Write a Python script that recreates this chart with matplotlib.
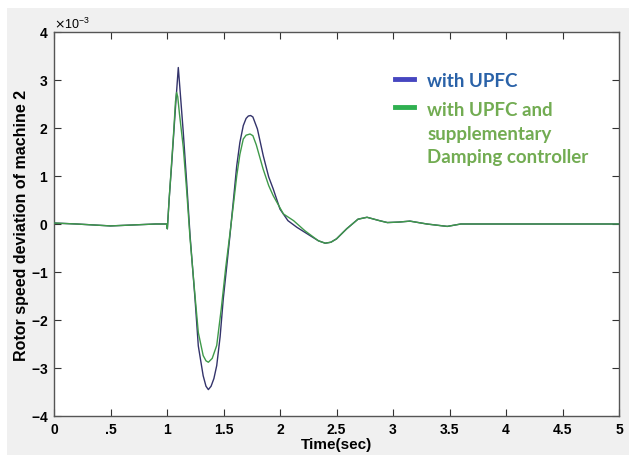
import matplotlib
matplotlib.use("Agg")
import numpy as np
import matplotlib.pyplot as plt
from matplotlib.patches import Rectangle
from matplotlib.lines import Line2D
from matplotlib.ticker import ScalarFormatter
from matplotlib.legend_handler import HandlerLine2D

# time (s) and rotor speed deviation (x1e-3)
t_upfc = [0, 0.2, 0.5, 0.7, 0.9, 0.997, 1.003, 1.02, 1.04, 1.06, 1.08, 1.10, 1.12, 1.144,
          1.174, 1.204, 1.248, 1.277, 1.32, 1.345, 1.366, 1.39, 1.415, 1.44, 1.47, 1.498,
          1.53, 1.557, 1.59, 1.617, 1.645, 1.675, 1.70, 1.72, 1.74, 1.76, 1.80, 1.852,
          1.90, 1.94, 2.0, 2.07, 2.15, 2.265, 2.34, 2.40, 2.45, 2.50, 2.59, 2.69, 2.77,
          2.88, 2.95, 3.05, 3.15, 3.3, 3.48, 3.6, 5.0]
w_upfc = [0.02, 0.0, -0.04, -0.02, 0.0, 0.0, -0.1, 0.55, 1.2, 1.9, 2.6, 3.26, 2.65, 1.91,
          0.87, -0.24, -1.56, -2.54, -3.16, -3.38, -3.45, -3.38, -3.22, -2.95, -2.35, -1.56,
          -0.85, -0.24, 0.55, 1.21, 1.7, 2.05, 2.2, 2.25, 2.26, 2.23, 1.98, 1.42,
          0.98, 0.73, 0.31, 0.07, -0.07, -0.24, -0.35, -0.40, -0.38, -0.31, -0.10, 0.10, 0.14,
          0.07, 0.03, 0.04, 0.06, 0.0, -0.05, 0.0, 0.0]

t_damp = [0, 0.2, 0.5, 0.7, 0.9, 0.997, 1.003, 1.02, 1.04, 1.06, 1.075, 1.085, 1.095, 1.11,
          1.144, 1.174, 1.204, 1.248, 1.277, 1.32, 1.345, 1.366, 1.40, 1.44, 1.48, 1.52,
          1.557, 1.59, 1.617, 1.645, 1.675, 1.70, 1.735, 1.76, 1.79, 1.85,
          1.90, 1.94, 2.03, 2.12, 2.22, 2.30, 2.34, 2.40, 2.45, 2.50, 2.59, 2.69, 2.77,
          2.88, 2.95, 3.05, 3.15, 3.3, 3.48, 3.6, 5.0]
w_damp = [0.02, 0.0, -0.04, -0.02, 0.0, 0.0, -0.1, 0.55, 1.25, 1.95, 2.55, 2.74, 2.65, 2.3,
          1.6, 0.7, -0.3, -1.5, -2.26, -2.74, -2.85, -2.88, -2.8, -2.53, -1.77, -0.9,
          -0.2, 0.45, 1.0, 1.45, 1.77, 1.85, 1.875, 1.84, 1.65, 1.15,
          0.8, 0.59, 0.21, 0.07, -0.14, -0.28, -0.35, -0.40, -0.38, -0.31, -0.10, 0.10, 0.14,
          0.07, 0.03, 0.04, 0.06, 0.0, -0.05, 0.0, 0.0]

x_ticks = [0, 0.5, 1, 1.5, 2, 2.5, 3, 3.5, 4, 4.5, 5]
x_labels = ["0", ".5", "1", "1.5", "2", "2.5", "3", "3.5", "4", "4.5", "5"]
y_ticks = [-4, -3, -2, -1, 0, 1, 2, 3, 4]

labels = ["with UPFC", "with UPFC and\nsupplementary\nDamping controller"]

plt.rcParams['font.family'] = ['Liberation Sans', 'DejaVu Sans']
plt.rcParams['axes.unicode_minus'] = False

W, H = 629, 456
fig = plt.figure(figsize=(W / 100, H / 100), dpi=100, facecolor='white')
fig.patches.append(Rectangle((7 / W, 0), 1, (H - 9) / H, transform=fig.transFigure,
                             facecolor='#f0f0f0', edgecolor='none', zorder=-10))

ax = fig.add_axes([54 / W, (H - 417) / H, (619 - 54) / W, (417 - 33) / H])
ax.set_facecolor('white')

ax.plot(t_upfc, [v * 1e-3 for v in w_upfc], color='#33336b', lw=1.0, zorder=3)
ax.plot(t_damp, [v * 1e-3 for v in w_damp], color='#3f9a4a', lw=1.0, zorder=4)

ax.set_xlim(0, 5)
ax.set_ylim(-4e-3, 4e-3)
ax.set_xticks(x_ticks)
ax.set_xticklabels(x_labels)
ax.set_yticks([v * 1e-3 for v in y_ticks])
fmt = ScalarFormatter(useMathText=True)
fmt.set_powerlimits((-2, 2))
ax.yaxis.set_major_formatter(fmt)
ax.yaxis.get_offset_text().set_fontsize(9)

ax.tick_params(direction='in', top=True, right=True, length=5, width=0.8,
               color='#333333', labelsize=10, pad=4)
for lab in ax.get_xticklabels() + ax.get_yticklabels():
    lab.set_fontweight('bold')
for sp in ax.spines.values():
    sp.set_color('#555555')
    sp.set_linewidth(1.0)

ax.set_xlabel('Time(sec)', fontsize=11, fontweight='bold', labelpad=1)
ax.set_ylabel('Rotor speed deviation of machine 2', fontsize=11.5, fontweight='bold', labelpad=1)


class TopHandler(HandlerLine2D):
    def __init__(self, shift, **kw):
        super().__init__(**kw)
        self.shift = shift

    def create_artists(self, legend, orig_handle, xdescent, ydescent, width, height,
                       fontsize, trans):
        arts = super().create_artists(legend, orig_handle, xdescent, ydescent, width,
                                      height, fontsize, trans)
        for a in arts:
            a.set_ydata(np.asarray(a.get_ydata(), dtype=float) + self.shift)
        return arts


h1 = Line2D([], [], color='#4646c0', lw=3.5)
h2 = Line2D([], [], color='#2fb050', lw=3.5)
leg = ax.legend([h1, h2], labels, loc='upper left', bbox_to_anchor=(0.574, 0.94),
                frameon=False, handlelength=1.0, handletextpad=0.7, labelspacing=0.67,
                prop={'family': 'Lato', 'weight': 'bold', 'size': 13.5},
                handler_map={h2: TopHandler(19.5)})
for txt in leg.get_texts():
    txt.set_linespacing(1.45)
leg.get_texts()[0].set_color('#2a62a8')
leg.get_texts()[1].set_color('#72ac52')

fig.savefig('out.png', dpi=100, facecolor=fig.get_facecolor())
